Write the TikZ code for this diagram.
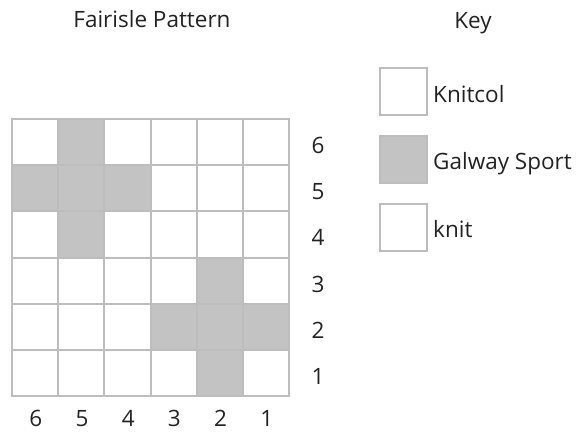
\documentclass[tikz,border=0pt]{standalone}
\usepackage{fontspec}
\setmainfont{Open Sans}
\definecolor{gridline}{HTML}{BDBDBD}
\definecolor{shade}{HTML}{C3C3C3}
\definecolor{txt}{HTML}{222222}
\begin{document}
\begin{tikzpicture}[x=1pt,y=-1pt,
  cell/.style={draw=gridline,line width=2pt,fill=white,minimum width=46.2pt,minimum height=46.2pt,inner sep=0pt,outer sep=0pt},
  dark/.style={fill=shade},
  keybox/.style={draw=gridline,line width=2pt,fill=white,minimum width=47pt,minimum height=47pt,inner sep=0pt},
  lbl/.style={text=txt,font=\fontsize{22.5}{26}\selectfont,inner sep=0pt}]
\useasboundingbox (0,0) rectangle (579,433);
\node[lbl,anchor=base] (title) at (152,28) {Fairisle Pattern};
\node[lbl,anchor=base] (keytitle) at (473,29) {Key};
% grid: row r=0 top, column c=0 left
\foreach \r/\c/\s in {
 0/0/,0/1/dark,0/2/,0/3/,0/4/,0/5/,
 1/0/dark,1/1/dark,1/2/dark,1/3/,1/4/,1/5/,
 2/0/,2/1/dark,2/2/,2/3/,2/4/,2/5/,
 3/0/,3/1/,3/2/,3/3/,3/4/dark,3/5/,
 4/0/,4/1/,4/2/,4/3/dark,4/4/dark,4/5/dark,
 5/0/,5/1/,5/2/,5/3/,5/4/dark,5/5/}{
  \node[cell,\s] (c\r\c) at ({35.1+46.2*\c},{142.1+46.2*\r}) {};
}
\foreach \r/\n in {0/6,1/5,2/4,3/3,4/2,5/1}{
  \node[lbl,anchor=base] (row\n) at (318,{153.5+46.2*\r}) {\n};
}
\foreach \c/\n in {0/6,1/5,2/4,3/3,4/2,5/1}{
  \node[lbl,anchor=base] (col\n) at ({35.8+46.2*\c},426) {\n};
}
\node[keybox] (k1) at (403,92) {};
\node[keybox,fill=shade] (k2) at (403,159.5) {};
\node[keybox] (k3) at (403,228) {};
\node[lbl,anchor=base west] (t1) at (433,103) {Knitcol};
\node[lbl,anchor=base west] (t2) at (433,170) {Galway Sport};
\node[lbl,anchor=base west] (t3) at (433,238) {knit};
\end{tikzpicture}
\end{document}
